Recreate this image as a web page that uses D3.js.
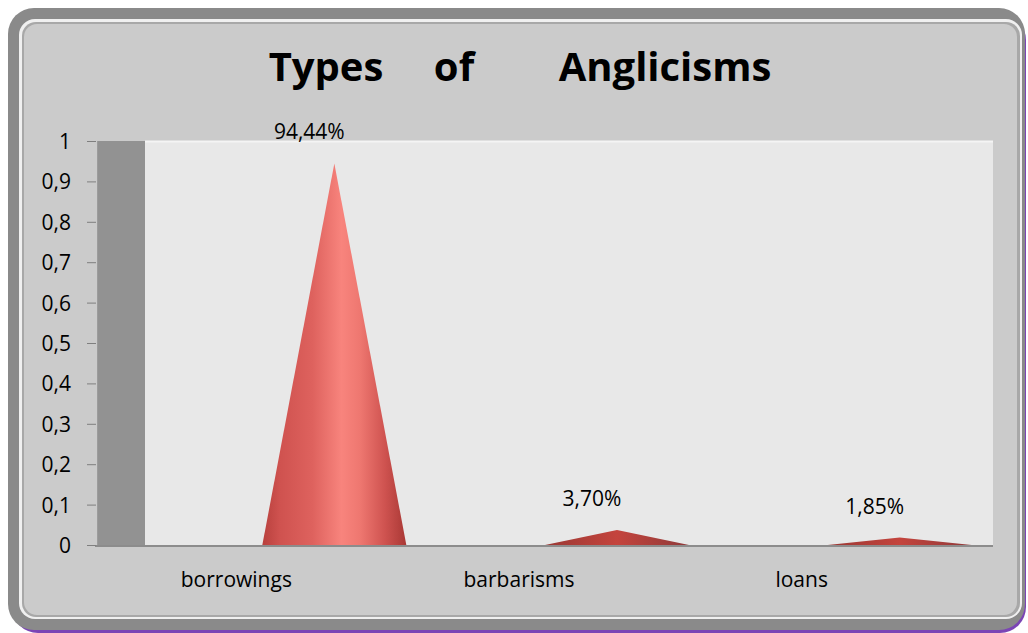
<!DOCTYPE html>
<html><head><meta charset="utf-8">
<script src="https://cdn.jsdelivr.net/npm/d3@7/dist/d3.min.js"></script>
<style>html,body{margin:0;padding:0;background:#fff;}svg{display:block;}</style>
</head><body>
<script>
const title = ["Types", "of", "Anglicisms"];
const categories = ["borrowings", "barbarisms", "loans"];
const values = [0.9444, 0.0370, 0.0185];
const valueLabels = ["94,44%", "3,70%", "1,85%"];
const yTicks = [0, 0.1, 0.2, 0.3, 0.4, 0.5, 0.6, 0.7, 0.8, 0.9, 1];
const yTickLabels = ["0", "0,1", "0,2", "0,3", "0,4", "0,5", "0,6", "0,7", "0,8", "0,9", "1"];

const W = 1028, H = 633;
const FONT = "'Open Sans', sans-serif";
const svg = d3.select("body").append("svg").attr("width", W).attr("height", H);
const defs = svg.append("defs");

// purple shadow
svg.append("rect").attr("x", 12).attr("y", 14).attr("width", 1014).attr("height", 619)
  .attr("rx", 26).attr("fill", "#7b45b5");
// outer frame
svg.append("rect").attr("x", 8).attr("y", 8).attr("width", 1017).attr("height", 622)
  .attr("rx", 26).attr("fill", "#8a8a8a");
// bevel
svg.append("rect").attr("x", 19).attr("y", 19).attr("width", 1003).attr("height", 600)
  .attr("rx", 16).attr("fill", "#f0f0f0");
svg.append("rect").attr("x", 22).attr("y", 22).attr("width", 998).attr("height", 595)
  .attr("rx", 14).attr("fill", "#a8a8a8");
svg.append("rect").attr("x", 24).attr("y", 24).attr("width", 993).attr("height", 591)
  .attr("rx", 13).attr("fill", "#cbcbcb");

// Title
const t = svg.append("text").attr("y", 81).attr("font-family", FONT)
  .attr("font-weight", "bold").attr("font-size", 40).attr("fill", "#000");
const titleX = [326, 454, 665];
t.selectAll("tspan").data(title).join("tspan")
  .attr("x", (d, i) => titleX[i]).attr("text-anchor", "middle").text(d => d);

// Plot geometry
const wallLeft = 145, wallRight = 993, sideLeft = 97;
const y = d3.scaleLinear().domain([0, 1]).range([545, 141]);
const x = d3.scaleBand().domain(categories).range([wallLeft, wallRight]);

// side wall
svg.append("rect").attr("x", sideLeft).attr("y", y(1)).attr("width", wallLeft - sideLeft)
  .attr("height", y(0) - y(1)).attr("fill", "#929292");
svg.append("line").attr("x1", sideLeft + 0.5).attr("x2", sideLeft + 0.5).attr("y1", y(1)).attr("y2", y(0))
  .attr("stroke", "#9c9c9c").attr("stroke-width", 1);
// back wall
svg.append("rect").attr("x", wallLeft).attr("y", y(1)).attr("width", wallRight - wallLeft)
  .attr("height", y(0) - y(1)).attr("fill", "#e8e8e8");
svg.append("line").attr("x1", wallLeft).attr("x2", wallRight).attr("y1", y(1) + 0.5).attr("y2", y(1) + 0.5)
  .attr("stroke", "#f4f4f4").attr("stroke-width", 2);
// floor line
svg.append("line").attr("x1", sideLeft - 2).attr("x2", wallRight).attr("y1", y(0) + 1).attr("y2", y(0) + 1)
  .attr("stroke", "#8c8c8c").attr("stroke-width", 2);

// y axis
const yAxis = d3.axisLeft(y).tickValues(yTicks).tickSize(9).tickPadding(16)
  .tickFormat((d, i) => yTickLabels[i]);
const ga = svg.append("g").attr("transform", `translate(${sideLeft - 1},0)`).call(yAxis);
ga.select(".domain").remove();
ga.selectAll(".tick line").attr("stroke", "#7f7f7f");
ga.selectAll(".tick text").attr("font-family", FONT).attr("font-size", 21)
  .attr("fill", "#000").attr("dy", "0.36em");

// gradients for cones
const grad = defs.append("linearGradient").attr("id", "cone").attr("x1", "0").attr("x2", "1").attr("y1", "0").attr("y2", "0");
[[0, "#b8403d"], [0.12, "#cf524f"], [0.35, "#de625e"], [0.55, "#f8847d"], [0.68, "#ee7770"], [0.85, "#cf5350"], [1, "#a93835"]]
  .forEach(s => grad.append("stop").attr("offset", s[0]).attr("stop-color", s[1]));
const gradSmall = defs.append("linearGradient").attr("id", "coneSmall").attr("x1", "0").attr("x2", "1").attr("y1", "0").attr("y2", "0");
[[0, "#9a3834"], [0.5, "#c4443d"], [1, "#8f3a3a"]]
  .forEach(s => gradSmall.append("stop").attr("offset", s[0]).attr("stop-color", s[1]));

const coneOffset = 48, halfBase = 72, labelOffset = -50;
const cones = svg.append("g");
cones.selectAll("path").data(categories).join("path")
  .attr("d", (c, i) => {
    const cx = x(c) + x.bandwidth() / 2 + coneOffset;
    return `M${cx - halfBase},${y(0)} L${cx},${y(values[i])} L${cx + halfBase},${y(0)} Z`;
  })
  .attr("fill", (c, i) => values[i] > 0.1 ? "url(#cone)" : "url(#coneSmall)");

// value labels
svg.selectAll("text.val").data(categories).join("text").attr("class", "val")
  .attr("x", (c, i) => x(c) + x.bandwidth() / 2 + coneOffset - 25)
  .attr("y", (c, i) => y(values[i]) - 24)
  .attr("text-anchor", "middle").attr("font-family", FONT).attr("font-size", 21)
  .attr("fill", "#000").text((c, i) => valueLabels[i]);

// category labels
svg.selectAll("text.cat").data(categories).join("text").attr("class", "cat")
  .attr("x", c => x(c) + x.bandwidth() / 2 + labelOffset)
  .attr("y", 587)
  .attr("text-anchor", "middle").attr("font-family", FONT).attr("font-size", 21)
  .attr("fill", "#000").text(c => c);
</script>
</body></html>
